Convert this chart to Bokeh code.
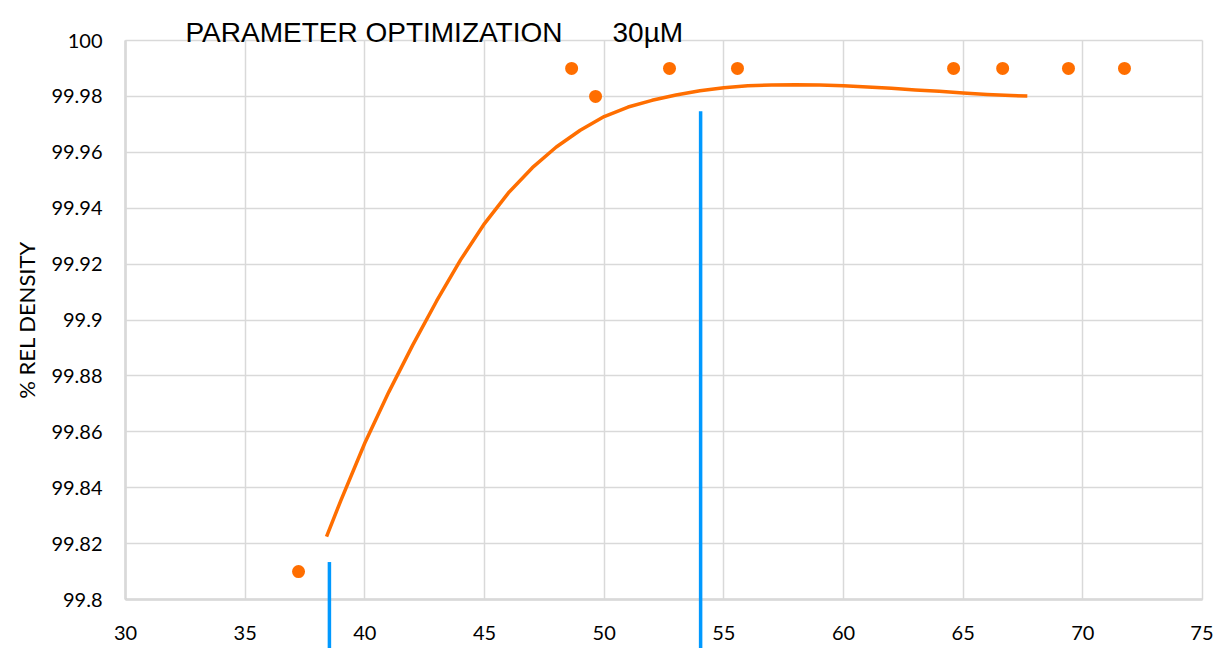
from bokeh.plotting import figure
from bokeh.models import Range1d, LinearAxis, FixedTicker, Label, Grid
from bokeh.embed import file_html
from bokeh.resources import INLINE

# ---------------- data ----------------
x_ticks = [30, 35, 40, 45, 50, 55, 60, 65, 70, 75]
x_tick_labels = ["30", "35", "40", "45", "50", "55", "60", "65", "70", "75"]
y_ticks = [99.8, 99.82, 99.84, 99.86, 99.88, 99.9, 99.92, 99.94, 99.96, 99.98, 100]
y_tick_labels = ["99.8", "99.82", "99.84", "99.86", "99.88", "99.9",
                 "99.92", "99.94", "99.96", "99.98", "100"]

points_x = [37.23, 48.64, 49.64, 52.73, 55.57, 64.6, 66.65, 69.4, 71.74]
points_y = [99.81, 99.99, 99.98, 99.99, 99.99, 99.99, 99.99, 99.99, 99.99]

trend_x = [38.4, 39, 40, 41, 42, 43, 44, 45, 46, 47, 48, 49, 50, 51, 52, 53,
           54, 55, 56, 57, 58, 59, 60, 61, 62, 63, 64, 65, 66, 67, 67.68]
trend_y = [99.8225, 99.8355, 99.8560, 99.8742, 99.8910, 99.9068, 99.9215, 99.9345,
           99.9455, 99.9545, 99.9619, 99.9679, 99.9728, 99.9762, 99.9786, 99.9805,
           99.9820, 99.9831, 99.9838, 99.9841, 99.9842, 99.9841, 99.9838, 99.9834,
           99.9829, 99.9823, 99.9818, 99.9812, 99.9807, 99.9803, 99.9801]

marker_x = [38.52, 54.03]
marker_top = [99.8134, 99.9747]

title_main = "PARAMETER OPTIMIZATION"
title_conc = "30µM"
y_label = "% REL DENSITY"

# ---------------- layout ----------------
X_MIN, X_MAX = 30, 75
Y_MIN, Y_MAX = 99.8, 100
W, H = 1213, 648
BOX_L, BOX_R, BOX_T, BOX_B = 125, 1202, 40, 599   # plot box inside the canvas
sx = (BOX_R - BOX_L) / (X_MAX - X_MIN)
sy = (BOX_B - BOX_T) / (Y_MAX - Y_MIN)
x_range = Range1d(X_MIN - BOX_L / sx, X_MAX + (W - BOX_R) / sx)
y_range = Range1d(Y_MIN - (H - BOX_B) / sy, Y_MAX + BOX_T / sy)

ORANGE = "#FF6E00"
BLUE = "#0099FF"
GRID = "#D9D9D9"
AXIS = "#BFBFBF"

p = figure(width=W, height=H, x_range=x_range, y_range=y_range,
           x_axis_location=None, y_axis_location=None,
           output_backend="svg", toolbar_location=None, min_border=0)
p.outline_line_color = None
p.title.visible = False
p.center = [r for r in p.center if not isinstance(r, Grid)]

xgrid = Grid(dimension=0, ticker=FixedTicker(ticks=x_ticks), cross_bounds=(Y_MIN, Y_MAX),
             grid_line_color=GRID, grid_line_width=1.5)
ygrid = Grid(dimension=1, ticker=FixedTicker(ticks=y_ticks), cross_bounds=(X_MIN, X_MAX),
             grid_line_color=GRID, grid_line_width=1.5)
p.add_layout(xgrid, "center")
p.add_layout(ygrid, "center")

xaxis = LinearAxis(fixed_location=Y_MIN, ticker=FixedTicker(ticks=x_ticks), bounds=(X_MIN, X_MAX),
                   major_label_overrides={t: s for t, s in zip(x_ticks, x_tick_labels)})
yaxis = LinearAxis(fixed_location=X_MIN, ticker=FixedTicker(ticks=y_ticks), bounds=(Y_MIN, Y_MAX),
                   major_label_overrides={t: s for t, s in zip(y_ticks, y_tick_labels)},
                   axis_label=y_label)
for ax in (xaxis, yaxis):
    ax.level = "underlay"
    ax.axis_line_color = AXIS
    ax.axis_line_width = 2
    ax.major_tick_line_color = None
    ax.minor_tick_line_color = None
    ax.major_tick_in = 0
    ax.major_tick_out = 0
    ax.major_label_text_font = "Lato"
    ax.major_label_text_font_size = "20px"
    ax.major_label_text_color = "#000000"
xaxis.major_label_standoff = 26
yaxis.major_label_standoff = 23
yaxis.axis_label_text_font = "Lato"
yaxis.axis_label_text_font_size = "22px"
yaxis.axis_label_text_font_style = "normal"
yaxis.axis_label_text_color = "#000000"
yaxis.axis_label_standoff = 8
p.add_layout(xaxis, "below")
p.add_layout(yaxis, "left")

p.segment(x0=marker_x, y0=[y_range.start] * len(marker_x), x1=marker_x, y1=marker_top,
          line_color=BLUE, line_width=3.5)
p.line(trend_x, trend_y, line_color=ORANGE, line_width=3.5, line_join="round")
p.scatter(points_x, points_y, marker="circle", size=13, fill_color=ORANGE, line_color=None)

p.add_layout(Label(x=185, y=H - 32, x_units="screen", y_units="screen", text=title_main,
                   text_font="Liberation Sans", text_font_size="28px", text_color="#000000",
                   text_baseline="alphabetic"))
p.add_layout(Label(x=612, y=H - 32, x_units="screen", y_units="screen", text=title_conc,
                   text_font="Liberation Sans", text_font_size="28px", text_color="#000000",
                   text_baseline="alphabetic"))

open("out.html", "w").write(file_html(p, INLINE))
